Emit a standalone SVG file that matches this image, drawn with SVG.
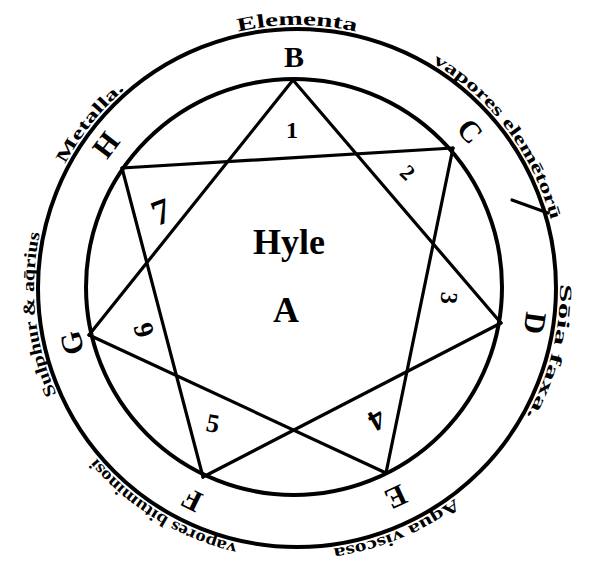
<svg xmlns="http://www.w3.org/2000/svg" xmlns:xlink="http://www.w3.org/1999/xlink" width="589" height="566" viewBox="0 0 589 566">
<style>
.ring{fill:none;stroke:#000;stroke-width:4}
.ln{stroke:#000;stroke-width:3.2;stroke-linecap:round}
.lbl{font-family:"Liberation Serif",serif;font-weight:bold;fill:#000;text-anchor:middle}
.vx{font-size:30px}
.arc{font-size:17px}
.ctr{font-size:36px}
</style>
<defs>
<path id="orbit" d="M297,551 A263,263 0 1 1 297,25 A263,263 0 1 1 297,551"/>
</defs>
<rect width="589" height="566" fill="#fff"/>
<g id="rings">
<circle class="ring" cx="297" cy="288" r="259"/>
<circle class="ring" cx="294" cy="287" r="208"/>
</g>
<g id="connectors">
<line class="ln" x1="293" y1="80" x2="501" y2="323"/>
<line class="ln" x1="453" y1="148" x2="386" y2="473"/>
<line class="ln" x1="501" y1="323" x2="203" y2="477"/>
<line class="ln" x1="386" y1="473" x2="89" y2="335"/>
<line class="ln" x1="203" y1="477" x2="122" y2="168"/>
<line class="ln" x1="89" y1="335" x2="293" y2="80"/>
<line class="ln" x1="122" y1="168" x2="453" y2="148"/>
<line class="ln" x1="512" y1="200" x2="548" y2="213" stroke-width="2.5"/>
</g>
<g id="center">
<text class="lbl ctr" x="289" y="254">Hyle</text>
<text class="lbl ctr" x="286" y="322">A</text>
</g>
<g id="node-B"><text class="lbl vx" x="294" y="67">B</text><text class="lbl" style="font-size:24px" transform="translate(292,130) rotate(0)" y="8">1</text></g>
<g id="node-C"><text class="lbl vx" transform="translate(470,131) rotate(48)" y="10">C</text><text class="lbl" style="font-size:22px" transform="translate(408,172) rotate(44)" y="8">2</text></g>
<g id="node-D"><text class="lbl vx" transform="translate(535,323) rotate(98)" y="10">D</text><text class="lbl" style="font-size:24px" transform="translate(449,298) rotate(94)" y="8">3</text></g>
<g id="node-E"><text class="lbl vx" transform="translate(396,497) rotate(155)" y="10">E</text><text class="lbl" style="font-size:30px" transform="translate(377,420) rotate(150)" y="10">4</text></g>
<g id="node-F"><text class="lbl vx" transform="translate(192,500) rotate(206)" y="10">F</text><text class="lbl" style="font-size:26px" transform="translate(213,423) rotate(10)" y="9">5</text></g>
<g id="node-G"><text class="lbl vx" transform="translate(72,343) rotate(256)" y="10">G</text><text class="lbl" style="font-size:28px" transform="translate(144,330) rotate(254)" y="9">6</text></g>
<g id="node-H"><text class="lbl vx" transform="translate(106,145) rotate(307)" y="10">H</text><text class="lbl" style="font-size:36px" transform="translate(161,212) rotate(-20)" y="12">7</text></g>
<g id="ring-labels">
<text class="lbl" style="font-size:19px"><textPath href="#orbit" startOffset="826" textLength="119" lengthAdjust="spacingAndGlyphs">Elementa</textPath></text>
<text class="lbl arc"><textPath href="#orbit" startOffset="1069" textLength="202" lengthAdjust="spacingAndGlyphs">vapores elemētorū</textPath></text>
<text class="lbl arc"><textPath href="#orbit" startOffset="1304" textLength="138" lengthAdjust="spacingAndGlyphs">Sōia faxa.</textPath></text>
<text class="lbl arc"><textPath href="#orbit" startOffset="1549" textLength="133" lengthAdjust="spacingAndGlyphs">Aqua viscosa</textPath></text>
<text class="lbl arc"><textPath href="#orbit" startOffset="144" textLength="168" lengthAdjust="spacingAndGlyphs">vapores bituminosi</textPath></text>
<text class="lbl arc"><textPath href="#orbit" startOffset="386" textLength="165" lengthAdjust="spacingAndGlyphs">Sulphur &amp; aq̄rius</textPath></text>
<text class="lbl arc"><textPath href="#orbit" startOffset="590" textLength="96" lengthAdjust="spacingAndGlyphs">Metalla.</textPath></text>
</g>
</svg>
